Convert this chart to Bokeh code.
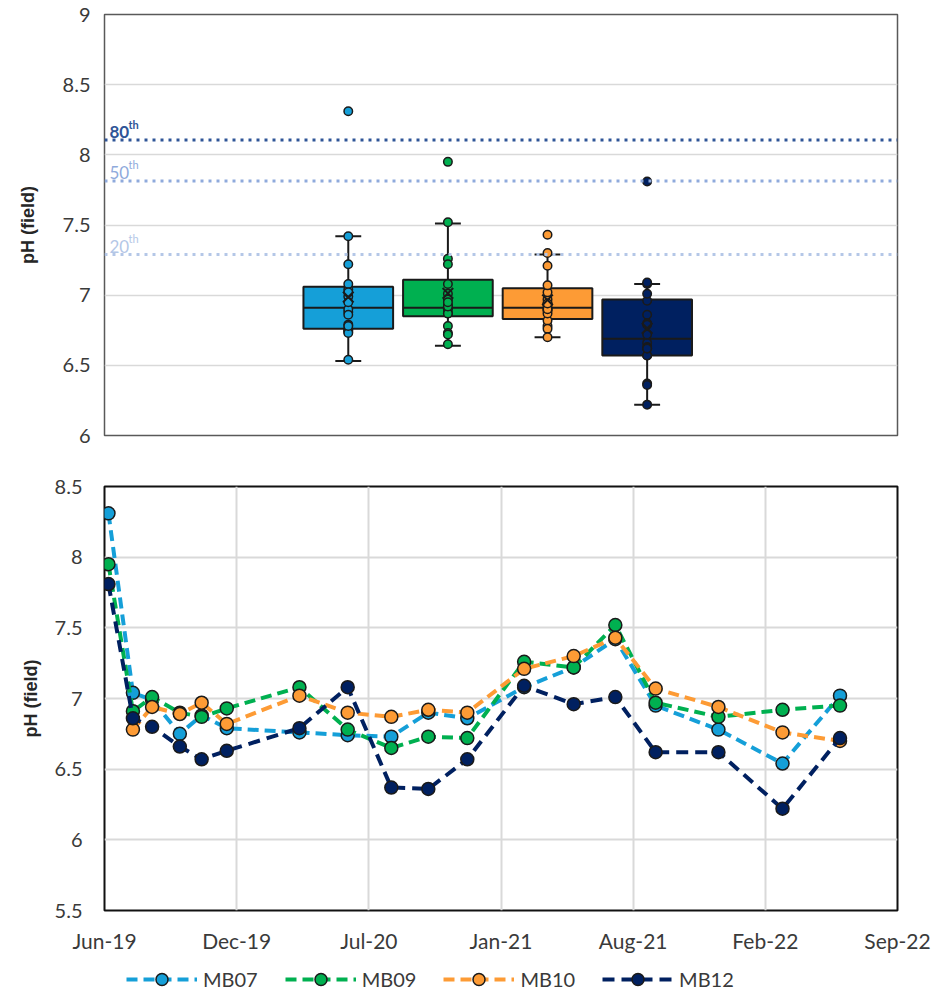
import numpy as np
import pandas as pd
from bokeh.plotting import figure
from bokeh.models import (ColumnDataSource, Range1d, FixedTicker, NumeralTickFormatter,
                          DatetimeTickFormatter, Legend, LegendItem, Span, Label)
from bokeh.layouts import column
from bokeh.embed import file_html
from bokeh.resources import INLINE

# ---------------- data ----------------
sample_dates = ["2019-06-07", "2019-07-14", "2019-08-12", "2019-09-23", "2019-10-26",
                "2019-12-03", "2020-03-22", "2020-06-03", "2020-08-08", "2020-10-03",
                "2020-12-01", "2021-02-25", "2021-05-11", "2021-07-13", "2021-09-12",
                "2021-12-16", "2022-03-23", "2022-06-18"]

mb07 = [8.31, 7.04, 6.99, 6.75, 6.88, 6.79, 6.76, 6.74, 6.73, 6.90, 6.86, 7.08, 7.22,
        7.42, 6.95, 6.78, 6.54, 7.02]
mb09 = [7.95, 6.91, 7.01, 6.90, 6.87, 6.93, 7.08, 6.78, 6.65, 6.73, 6.72, 7.26, 7.22,
        7.52, 6.97, 6.87, 6.92, 6.95]
mb10 = [6.78, 6.94, 6.89, 6.97, 6.82, 7.02, 6.90, 6.87, 6.92, 6.90, 7.21, 7.30,
        7.43, 7.07, 6.94, 6.76, 6.70]          # starts at the 2nd sampling date
mb12 = [7.81, 6.86, 6.80, 6.66, 6.57, 6.63, 6.79, 7.08, 6.37, 6.36, 6.57, 7.09, 6.96,
        7.01, 6.62, 6.62, 6.22, 6.72]

series_names = ["MB07", "MB09", "MB10", "MB12"]
series_colors = ["#159fd8", "#00b050", "#fd9b35", "#002060"]

# box statistics
box_whisker_lo = [6.53, 6.64, 6.70, 6.22]
box_q1 = [6.76, 6.85, 6.83, 6.57]
box_median = [6.91, 6.91, 6.91, 6.69]
box_q3 = [7.06, 7.11, 7.05, 6.97]
box_whisker_hi = [7.42, 7.51, 7.29, 7.08]

pct_levels = [8.105, 7.814, 7.29]
pct_numbers = ["80", "50", "20"]
pct_colors = ["#2f5597", "#8faadc", "#b4c7e7"]

top_y_ticks = [6, 6.5, 7, 7.5, 8, 8.5, 9]
bottom_y_ticks = [5.5, 6, 6.5, 7, 7.5, 8, 8.5]
x_tick_dates = ["2019-06-01", "2019-12-18", "2020-07-05", "2021-01-21",
                "2021-08-09", "2022-02-25", "2022-09-13"]
x_tick_labels = ["Jun-19", "Dec-19", "Jul-20", "Jan-21", "Aug-21", "Feb-22", "Sep-22"]

TICK_FONT = "Lato"
TITLE_FONT = "Liberation Sans"
TEXT_COLOR = "#3a3a3a"

series_values = [mb07, mb09, mb10, mb12]
series_dates = [sample_dates, sample_dates, sample_dates[1:], sample_dates]


def style_y_axis(p, ticks, label_standoff, title_standoff):
    ax = p.yaxis[0]
    ax.ticker = FixedTicker(ticks=ticks)
    ax.formatter = NumeralTickFormatter(format="0.[0]")
    ax.axis_label = "pH (field)"
    ax.axis_label_text_font = TITLE_FONT
    ax.axis_label_text_font_style = "bold"
    ax.axis_label_text_font_size = "18px"
    ax.axis_label_text_color = "#262626"
    ax.axis_label_standoff = title_standoff
    ax.major_label_text_font = TICK_FONT
    ax.major_label_text_font_size = "20px"
    ax.major_label_text_color = TEXT_COLOR
    ax.major_label_standoff = label_standoff
    ax.axis_line_color = None
    ax.major_tick_line_color = None
    ax.minor_tick_line_color = None
    ax.major_tick_out = 0
    ax.major_tick_in = 0


# ---------------- top: box plots ----------------
box_pos = np.arange(1, len(series_names) + 1, dtype=float)
box_w = 0.9
cap_w = 0.26

top = figure(width=933, height=468, output_backend="svg", toolbar_location=None,
             x_range=Range1d(-1.447, 6.513), y_range=Range1d(6, 9),
             min_border_left=101, min_border_right=36, min_border_top=14, min_border_bottom=33)
top.xaxis.visible = False
top.xgrid.visible = False
top.ygrid.ticker = FixedTicker(ticks=top_y_ticks)
top.ygrid.grid_line_color = "#d9d9d9"
top.ygrid.grid_line_width = 1.5
top.outline_line_color = "#595959"
top.outline_line_width = 1.5
style_y_axis(top, top_y_ticks, 14, 22)

for lvl, num, col, bold in zip(pct_levels, pct_numbers, pct_colors, [True, False, False]):
    top.add_layout(Span(location=lvl, dimension="width", line_color=col, line_width=3,
                        line_dash="3 5"))
    x0 = top.x_range.start
    top.add_layout(Label(x=x0, y=lvl, x_offset=5, y_offset=8, text=num,
                         text_font=TICK_FONT, text_font_size="17px",
                         text_font_style="bold" if bold else "normal",
                         text_color=col, text_baseline="alphabetic"))
    top.add_layout(Label(x=x0, y=lvl, x_offset=24, y_offset=16, text="th",
                         text_font=TICK_FONT, text_font_size="11px",
                         text_font_style="bold" if bold else "normal",
                         text_color=col, text_baseline="alphabetic"))

box_src = ColumnDataSource(dict(
    x=box_pos, q1=box_q1, q3=box_q3, med=box_median, lo=box_whisker_lo, hi=box_whisker_hi,
    color=series_colors,
    bl=box_pos - box_w / 2, br=box_pos + box_w / 2,
    cl=box_pos - cap_w / 2, cr=box_pos + cap_w / 2,
    mean=[float(np.mean(v)) for v in series_values],
))
top.segment(x0="x", x1="x", y0="q3", y1="hi", source=box_src, line_color="#1a1a1a", line_width=2)
top.segment(x0="x", x1="x", y0="lo", y1="q1", source=box_src, line_color="#1a1a1a", line_width=2)
top.segment(x0="cl", x1="cr", y0="hi", y1="hi", source=box_src, line_color="#1a1a1a", line_width=2)
top.segment(x0="cl", x1="cr", y0="lo", y1="lo", source=box_src, line_color="#1a1a1a", line_width=2)
top.vbar(x="x", width=box_w, bottom="q1", top="q3", source=box_src, fill_color="color",
         line_color="#1a1a1a", line_width=2)
top.segment(x0="bl", x1="br", y0="med", y1="med", source=box_src, line_color="#1a1a1a", line_width=2)

for i, vals in enumerate(series_values):
    top.scatter(x=[box_pos[i]] * len(vals), y=vals, size=8.5, fill_color=series_colors[i],
                line_color="#1a1a1a", line_width=1.5)
top.scatter(x="x", y="mean", source=box_src, marker="x", size=15, line_color="#1a1a1a",
            line_width=2)

# ---------------- bottom: time series ----------------
tick_ts = [pd.Timestamp(d) for d in x_tick_dates]
tick_ms = [int(t.value // 10**6) for t in tick_ts]

bot = figure(width=933, height=492, x_axis_type="datetime", output_backend="svg",
             toolbar_location=None,
             x_range=Range1d(tick_ts[0], tick_ts[-1]), y_range=Range1d(5.5, 8.5),
             min_border_left=104, min_border_right=35, min_border_top=18, min_border_bottom=50)
bot.outline_line_color = "#111111"
bot.outline_line_width = 2
style_y_axis(bot, bottom_y_ticks, 22, 11)
bot.ygrid.ticker = FixedTicker(ticks=bottom_y_ticks)
bot.xgrid.ticker = FixedTicker(ticks=tick_ms)
for g in (bot.xgrid[0], bot.ygrid[0]):
    g.grid_line_color = "#d9d9d9"
    g.grid_line_width = 2

xa = bot.xaxis[0]
xa.ticker = FixedTicker(ticks=tick_ms)
xa.formatter = DatetimeTickFormatter(days="%b-%y", months="%b-%y", years="%b-%y")
xa.major_label_overrides = {t: lab for t, lab in zip(tick_ms, x_tick_labels)}
xa.major_label_text_font = TICK_FONT
xa.major_label_text_font_size = "21px"
xa.major_label_text_color = TEXT_COLOR
xa.major_label_standoff = 17
xa.axis_line_color = None
xa.major_tick_line_color = None
xa.minor_tick_line_color = None
xa.major_tick_out = 0
xa.major_tick_in = 0

# legend strip below the time series (its glyphs reuse the series data,
# which fall outside this strip's y range so only the legend is visible)
leg = figure(width=933, height=34, output_backend="svg", toolbar_location=None,
             x_axis_type="datetime",
             x_range=Range1d(tick_ts[0], tick_ts[-1]), y_range=Range1d(0, 1),
             min_border_left=0, min_border_right=0, min_border_top=0, min_border_bottom=0)
leg.axis.visible = False
leg.grid.visible = False
leg.outline_line_color = None

items = []
for name, col, dts, vals in zip(series_names, series_colors, series_dates, series_values):
    src = ColumnDataSource(dict(x=pd.to_datetime(dts), y=vals))
    dash = "12 7" if name == "MB12" else "11 6"
    ln = bot.line("x", "y", source=src, line_color=col, line_width=4, line_dash=dash)
    sc = bot.scatter("x", "y", source=src, size=13, fill_color=col, line_color="#1a1a1a",
                     line_width=1.5)
    lln = leg.line("x", "y", source=src, line_color=col, line_width=4, line_dash=dash)
    lsc = leg.scatter("x", "y", source=src, size=13, fill_color=col, line_color="#1a1a1a",
                      line_width=1.5)
    items.append(LegendItem(label=name, renderers=[lln, lsc]))

legend = Legend(items=items, orientation="horizontal", location=(22, 0), padding=0,
                margin=0, spacing=27, glyph_width=71, glyph_height=30, label_standoff=6,
                label_text_font=TICK_FONT, label_text_font_size="20px",
                label_text_color=TEXT_COLOR, border_line_color=None,
                background_fill_alpha=0)
leg.add_layout(legend)

layout = column(top, bot, leg, spacing=0)
open("out.html", "w").write(file_html(layout, INLINE))
